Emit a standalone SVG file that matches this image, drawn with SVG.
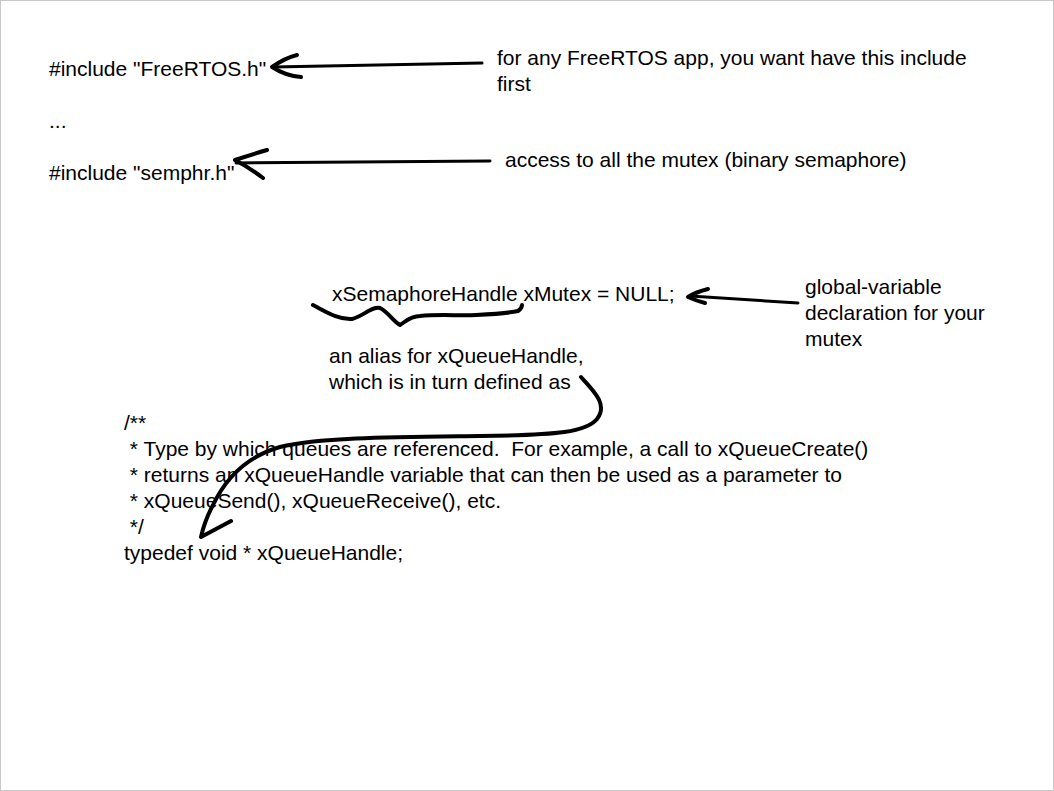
<svg xmlns="http://www.w3.org/2000/svg" width="1054" height="791" viewBox="0 0 1054 791">
<style>
text{font-family:"Liberation Sans",Arial,sans-serif;font-size:21px;fill:#000;white-space:pre}
.ink{fill:none;stroke:#000;stroke-linecap:round;stroke-linejoin:round}
</style>
<rect x="0.5" y="0.5" width="1053" height="790" fill="#fff" stroke="#c8c8c8"/>
<g id="inc-freertos"><text x="49" y="76">#include "FreeRTOS.h"</text></g>
<g id="dots"><text x="49" y="128">...</text></g>
<g id="inc-semphr"><text x="49" y="180">#include "semphr.h"</text></g>
<g id="note-freertos"><text x="497" y="65">for any FreeRTOS app, you want have this include</text><text x="497" y="91">first</text></g>
<g id="note-mutex"><text x="505" y="167">access to all the mutex (binary semaphore)</text></g>
<g id="decl"><text x="332" y="301">xSemaphoreHandle xMutex = NULL;</text></g>
<g id="note-global"><text x="805" y="294">global-variable</text><text x="805" y="320">declaration for your</text><text x="805" y="346">mutex</text></g>
<g id="note-alias"><text x="329" y="363">an alias for xQueueHandle,</text><text x="329" y="389">which is in turn defined as</text></g>
<g id="code">
<text x="124" y="430">/**</text>
<text x="124" y="456"> * Type by which queues are referenced.  For example, a call to xQueueCreate()</text>
<text x="124" y="482"> * returns an xQueueHandle variable that can then be used as a parameter to</text>
<text x="124" y="508"> * xQueueSend(), xQueueReceive(), etc.</text>
<text x="124" y="534"> */</text>
<text x="124" y="560">typedef void * xQueueHandle;</text>
</g>
<g id="connectors">
<path class="ink" stroke-width="3" d="M482,63 L273,67"/>
<path class="ink" stroke-width="4" d="M297,55 Q285,58 272,67 Q286,76 301,77"/>
<path class="ink" stroke-width="3" d="M490,161 L236,163"/>
<path class="ink" stroke-width="4" d="M267,150 Q250,155 235,160 Q250,168 263,178"/>
<path class="ink" stroke-width="3" d="M798,303 L690,296"/>
<path class="ink" stroke-width="4" d="M708,289 Q696,292 688,297 Q697,301 705,303"/>
<path class="ink" stroke-width="4" d="M313,305 C325,311 338,320 352,319 C362,317 372,306 380,308 C388,312 394,322 400,325 C405,322 410,316 420,316 C440,314 460,316 476,315 C495,314 510,313 518,311 C521,309 522,306 522,305"/>
<path class="ink" stroke-width="4" d="M581,377 C595,392 608,405 597,419 C586,432 560,435 480,436 C400,437 320,437 280,447 C245,457 225,480 213,505 C206,518 203,528 201,537 L231,521"/>
</g>
</svg>
